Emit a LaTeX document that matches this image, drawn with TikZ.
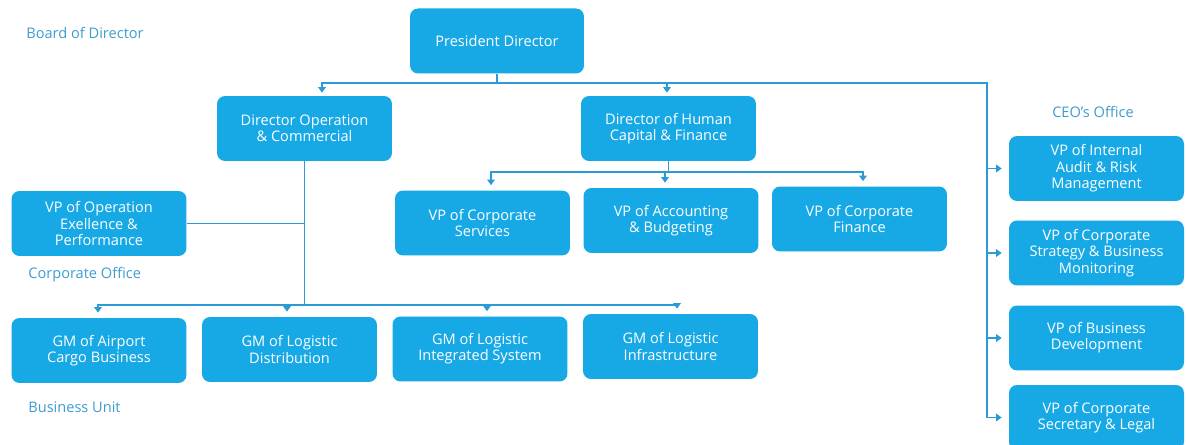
\documentclass[tikz,border=0pt]{standalone}
\usepackage{fontspec}
\setmainfont{Open Sans}
\usetikzlibrary{arrows.meta}
\definecolor{boxblue}{HTML}{17A9E6}
\definecolor{lineblue}{HTML}{2C9AD6}
\definecolor{labelblue}{HTML}{3F9CCF}
\tikzset{
  unitbox/.style={fill=boxblue, rounded corners=0.16cm, minimum width=3.5cm, minimum height=1.3cm,
    align=center, text=white, font=\fontsize{8.3}{9.3}\selectfont, inner sep=0pt},
  grplabel/.style={text=labelblue, font=\fontsize{8.3}{9.3}\selectfont, anchor=west, inner sep=0pt},
  link/.style={draw=lineblue, line width=0.9pt},
  arr/.style={link, -{Triangle[length=3.2pt,width=4.4pt]}},
}
\begin{document}
\begin{tikzpicture}[x=0.02cm,y=-0.02cm]
\clip (0,0) rectangle (1186,445);
\fill[white] (0,0) rectangle (1186,445);

% labels
\node[grplabel] (lbod) at (26,33) {Board of Director};
\node[grplabel, anchor=center] (lceo) at (1093,112) {CEO’s Office};
\node[grplabel] (lco) at (28,275) {Corporate Office};
\node[grplabel] (lbu) at (28,407) {Business Unit};

% boxes
\node[unitbox, minimum width=3.48cm] (pres) at (497,41) {President Director};
\node[unitbox] (dop) at (304.5,128.5) {Director Operation\\\& Commercial};
\node[unitbox] (dhc) at (668.5,128.5) {Director of Human\\Capital \& Finance};

\node[unitbox] (vpop) at (99,223.5) {VP of Operation\\Exellence \&\\Performance};
\node[unitbox] (vpcs) at (482.5,223) {VP of Corporate\\Services};
\node[unitbox] (vpacc) at (671,220.5) {VP of Accounting\\\& Budgeting};
\node[unitbox] (vpcf) at (859.5,219) {VP of Corporate\\Finance};

\node[unitbox] (gm1) at (99,350.5) {GM of Airport\\Cargo Business};
\node[unitbox] (gm2) at (289.5,349.5) {GM of Logistic\\Distribution};
\node[unitbox] (gm3) at (480,349) {GM of Logistic\\Integrated System};
\node[unitbox] (gm4) at (670.5,346.5) {GM of Logistic\\Infrastructure};

\node[unitbox] (ceo1) at (1096.5,168.5) {VP of Internal\\Audit \& Risk\\Management};
\node[unitbox] (ceo2) at (1096.5,253) {VP of Corporate\\Strategy \& Business\\Monitoring};
\node[unitbox] (ceo3) at (1096.5,338) {VP of Business\\Development};
\node[unitbox] (ceo4) at (1096.5,417.5) {VP of Corporate\\Secretary \& Legal};

% top level connectors
\coordinate (tl) at (322,83);
\coordinate (tm) at (667,83);
\coordinate (tr) at (987,83);
\draw[link] (pres.south) -- (pres.south |- tl);
\draw[arr, shorten >=0.06cm] (tr) -- (tl) -- (tl |- dop.north);
\draw[arr, shorten >=0.06cm] (tm) -- (tm |- dhc.north);
\draw[arr, shorten >=0.14cm] (tl) -- (tr) -- (tr |- ceo4.west) -- (ceo4.west);
\foreach \n in {ceo1,ceo2,ceo3}
  \draw[arr, shorten >=0.14cm] (tr |- \n.west) -- (\n.west);

% human capital branch
\coordinate (hl) at (491,172);
\coordinate (hm) at (665,172);
\coordinate (hr) at (863,172);
\draw[link] (dhc.south) -- (dhc.south |- hl);
\draw[arr, shorten >=0.1cm] (hr) -- (hl) -- (hl |- vpcs.north);
\draw[arr, shorten >=0.1cm] (hm) -- (hm |- vpacc.north);
\draw[arr, shorten >=0.1cm] (hl) -- (hr) -- (hr |- vpcf.north);

% operation branch
\coordinate (bl) at (98,305);
\coordinate (b2) at (287,305);
\coordinate (b3) at (487,305);
\coordinate (br) at (677,305);
\draw[link] (dop.south) -- (dop.south |- bl);
\draw[link] (vpop.east) -- (vpop.east -| dop.south);
\draw[arr, shorten >=0.1cm] (br) -- (bl) -- (bl |- gm1.north);
\draw[arr, shorten >=0.1cm] (b2) -- (b2 |- gm2.north);
\draw[arr, shorten >=0.1cm] (b3) -- (b3 |- gm3.north);
\draw[arr, shorten >=0.1cm] (bl) -- (br) -- (br |- gm4.north);
\end{tikzpicture}
\end{document}
